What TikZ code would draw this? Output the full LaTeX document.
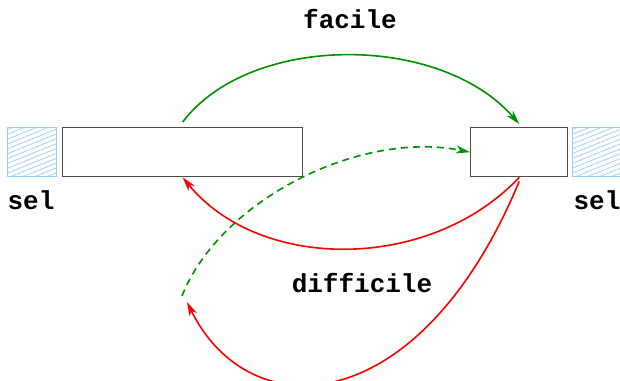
\documentclass[tikz,border=0pt]{standalone}
\usepackage{fontspec}
\setmonofont{Liberation Mono}
\usetikzlibrary{arrows.meta,patterns.meta}
\definecolor{hatch}{RGB}{150,205,245}
\definecolor{gr}{RGB}{0,145,0}
\tikzset{
  box/.style={draw=black!70,line width=1.4pt,fill=white,inner sep=0pt,anchor=north west},
  selbox/.style={draw=hatch,line width=1pt,inner sep=0pt,anchor=north west,
    pattern={Lines[angle=22,distance=4.5pt,line width=0.7pt]},pattern color=hatch},
  lbl/.style={font=\fontsize{26}{26}\ttfamily\bfseries,inner sep=0pt},
  arr/.style={line width=1.6pt,-{Stealth[length=14pt,width=8pt,inset=4pt]}},
}
\begin{document}
\begin{tikzpicture}[x=1pt,y=-1pt]
\useasboundingbox (0,0) rectangle (620,380);
\node[selbox,minimum width=49pt,minimum height=49pt] (sl) at (7,127) {};
\node[box,minimum width=240pt,minimum height=49pt] (big) at (62,127) {};
\node[box,minimum width=97pt,minimum height=49pt] (small) at (470,127) {};
\node[selbox,minimum width=48pt,minimum height=49pt] (sr) at (572,127) {};
\node[lbl] (t1) at (31,200) {sel};
\node[lbl] (t2) at (597,200) {sel};
\node[lbl] (fac) at (350,19) {facile};
\node[lbl] (dif) at (362,283) {difficile};
\coordinate (ds) at (182,296);
\coordinate (re) at (187,302);
\draw[arr,gr] ([yshift=5pt]big.north) .. controls (250,33) and (440,33) .. ([yshift=3pt]small.north);
\draw[arr,gr,dashed,dash pattern=on 7pt off 5pt] (ds) .. controls (220,200) and (360,130) .. (small.west);
\draw[arr,red] (small.south) .. controls (430,272) and (260,272) .. (big.south);
\draw[arr,red] ([yshift=-4pt]small.south) .. controls (420,420) and (250,430) .. (re);
\end{tikzpicture}
\end{document}
